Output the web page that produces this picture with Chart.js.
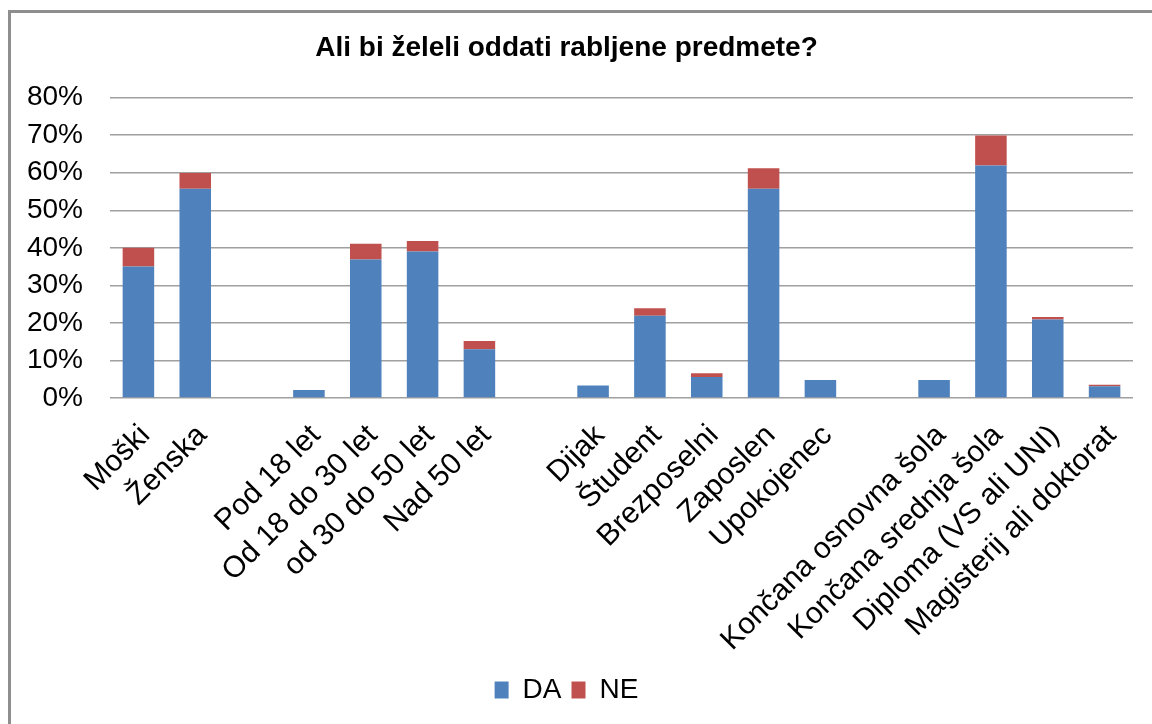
<!DOCTYPE html>
<html>
<head>
<meta charset="utf-8">
<script src="https://cdn.jsdelivr.net/npm/chart.js@4"></script>
<style>
  html, body { margin: 0; padding: 0; background: #fff; }
  #wrap { width: 1152px; height: 724px; }
</style>
</head>
<body>
<div id="wrap"><canvas id="myChart" width="1152" height="724"></canvas></div>
<script>
// categories (empty strings are the gaps between groups)
const categories = [
  'Moški', 'Ženska', '',
  'Pod 18 let', 'Od 18 do 30 let', 'od 30 do 50 let', 'Nad 50 let', '',
  'Dijak', 'Študent', 'Brezposelni', 'Zaposlen', 'Upokojenec', '',
  'Končana osnovna šola', 'Končana srednja šola', 'Diploma (VS ali UNI)', 'Magisterij ali doktorat'
]
const daValues = [35, 55.7, null, 2.1, 36.9, 39, 13, null, 3.3, 21.9, 5.6, 55.7, 4.8, null, 4.8, 61.9, 20.9, 3.1]
const neValues = [5, 4.2, null, 0, 4.2, 2.8, 2.2, null, 0, 2.0, 1.0, 5.5, 0, null, 0, 8.0, 0.7, 0.4]
const yTicks = [0, 10, 20, 30, 40, 50, 60, 70, 80]

const font = 'Liberation Sans, Arial, sans-serif'

const frame = {
  id: 'frame',
  beforeDraw(chart) {
    const ctx = chart.ctx
    ctx.save()
    ctx.strokeStyle = '#8e8e8e'
    ctx.lineWidth = 3
    ctx.strokeRect(9.5, 11.5, 1300, 900)
    ctx.restore()
  }
}

const myChartRef = document.getElementById('myChart').getContext('2d')

new Chart(myChartRef, {
  type: 'bar',
  data: {
    labels: categories,
    datasets: [
      { label: 'DA', data: daValues, backgroundColor: '#4F81BD' },
      { label: 'NE', data: neValues, backgroundColor: '#C0504D' }
    ]
  },
  plugins: [frame],
  options: {
    responsive: false,
    animation: false,
    layout: { padding: { top: 12, bottom: 10, left: 0, right: 19 } },
    datasets: { bar: { categoryPercentage: 1, barPercentage: 0.555 } },
    plugins: {
      title: {
        display: true,
        text: 'Ali bi želeli oddati rabljene predmete?',
        color: '#000',
        font: { family: font, size: 28, weight: 'bold' },
        padding: { top: 19, bottom: 33 }
      },
      legend: {
        position: 'bottom',
        labels: {
          color: '#000',
          font: { family: font, size: 28 },
          boxWidth: 14,
          boxHeight: 17,
          padding: 10
        }
      },
      tooltip: { enabled: false }
    },
    scales: {
      x: {
        stacked: true,
        grid: { display: false },
        border: { display: false },
        ticks: {
          autoSkip: false,
          minRotation: 45,
          maxRotation: 45,
          padding: 12,
          labelOffset: 7,
          color: '#000',
          font: { family: font, size: 30 }
        },
        afterFit(scale) { scale.height = 268 }
      },
      y: {
        stacked: true,
        min: 0,
        max: 80,
        afterBuildTicks(scale) { scale.ticks = yTicks.map(v => ({ value: v })) },
        grid: { color: '#a0a0a0', lineWidth: 1.5, drawTicks: false },
        border: { display: false },
        ticks: {
          padding: 27,
          color: '#000',
          font: { family: font, size: 28 },
          callback: v => v + '%'
        },
        afterFit(scale) { scale.width = 110 }
      }
    }
  }
})
</script>
</body>
</html>
